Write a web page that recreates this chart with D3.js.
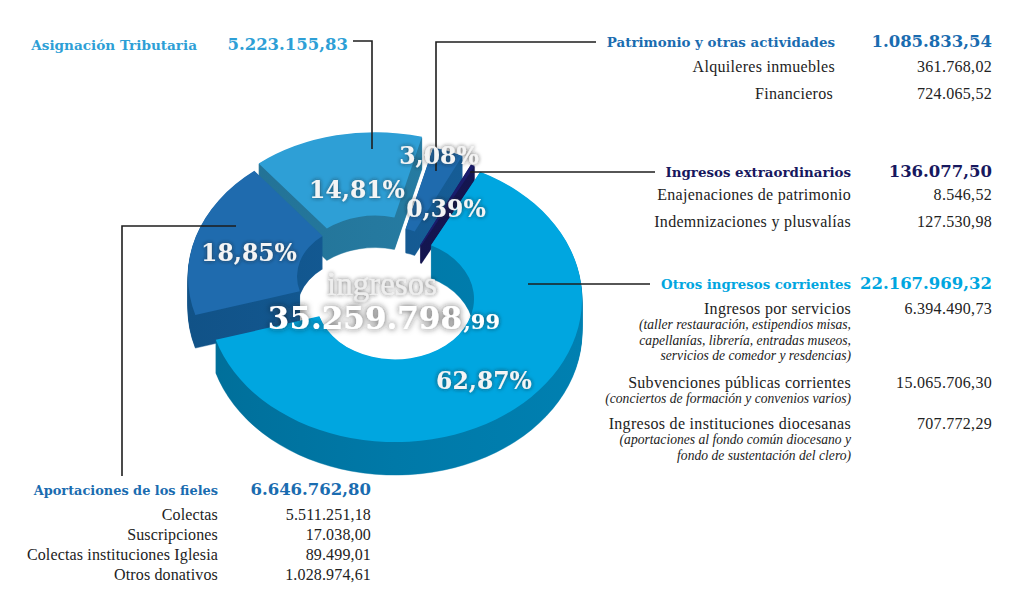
<!DOCTYPE html>
<html><head><meta charset="utf-8">
<script src="https://cdn.jsdelivr.net/npm/d3@7/dist/d3.min.js"></script>
<style>html,body{margin:0;background:#fff}svg{display:block}</style></head>
<body><svg id="c" width="1024" height="610"></svg>
<script>
const sliceNames=["Otros ingresos corrientes","Aportaciones de los fieles","Asignación Tributaria","Patrimonio y otras actividades","Ingresos extraordinarios"];
const sliceValues=[22167969.32,6646762.80,5223155.83,1085833.54,136077.50];
const sliceLabels=["62,87%","18,85%","14,81%","3,08%","0,39%"];
const topColors=["#00a6e0","#1f6bae","#2e9fd6","#1f6bae","#1a1c6c"];
const wallColors=["#0079a8","#135a94","#25799f","#155a92","#14154f"];
const totalMain="35.259.798";
const totalCents=",99";
const patrimonio=["Patrimonio y otras actividades","1.085.833,54"];
const patrimonioRows=[["Alquileres inmuebles","361.768,02"],["Financieros","724.065,52"]];
const extra=["Ingresos extraordinarios","136.077,50"];
const extraRows=[["Enajenaciones de patrimonio","8.546,52"],["Indemnizaciones y plusvalías","127.530,98"]];
const otros=["Otros ingresos corrientes","22.167.969,32"];
const otrosRows=[["Ingresos por servicios","6.394.490,73"],["Subvenciones públicas corrientes","15.065.706,30"],["Ingresos de instituciones diocesanas","707.772,29"]];
const otrosNotes=[["(taller restauración, estipendios misas,","capellanías, librería, entradas museos,","servicios de comedor y resdencias)"],["(conciertos de formación y convenios varios)"],["(aportaciones al fondo común diocesano y","fondo de sustentación del clero)"]];
const aportaciones=["Aportaciones de los fieles","6.646.762,80"];
const aportacionesRows=[["Colectas","5.511.251,18"],["Suscripciones","17.038,00"],["Colectas instituciones Iglesia","89.499,01"],["Otros donativos","1.028.974,61"]];
const asignacion=["Asignación Tributaria","5.223.155,83"];

const svg=d3.select("#c");
const SERIF="'DejaVu Serif',serif", BODY="'Liberation Serif',serif";
const defs=svg.append("defs");
const f1=defs.append("filter").attr("id","sh").attr("x","-20%").attr("y","-30%").attr("width","140%").attr("height","160%");
f1.append("feDropShadow").attr("dx",0).attr("dy",0).attr("stdDeviation",2).attr("flood-color","#222").attr("flood-opacity",.75);
const f2=defs.append("filter").attr("id","sh2").attr("x","-20%").attr("y","-30%").attr("width","140%").attr("height","160%");
f2.append("feDropShadow").attr("dx",0).attr("dy",0).attr("stdDeviation",3).attr("flood-color","#222").attr("flood-opacity",.8);

const SQ=.765;
const centers=[[395,299],[365,276.5],[375,274.5],[393,266],[395,285]];
const outerR=[187,177,186,160,175];
const innerR=[79,68,77,50,58];
const depths=[33,33,32,24,18];
const drawOrder=[2,3,4,1,0];
const labelPos=[[484,389],[249,261],[357,198],[439,164],[446,217]];

const pie=d3.pie().sort(null).startAngle(27.1*Math.PI/180).endAngle(387.1*Math.PI/180);
const arcs=pie(sliceValues);

sliceValues.forEach((_,i)=>{
  const g=defs.append("linearGradient").attr("id","w"+i).attr("gradientUnits","userSpaceOnUse")
    .attr("x1",-outerR[i]).attr("x2",outerR[i]).attr("y1",0).attr("y2",0);
  g.append("stop").attr("offset",0).attr("stop-color",d3.color(wallColors[i]).darker(.25));
  g.append("stop").attr("offset",.5).attr("stop-color",wallColors[i]);
  g.append("stop").attr("offset",1).attr("stop-color",d3.color(wallColors[i]).brighter(.15));
});

const pieG=svg.append("g");
drawOrder.forEach(i=>{
  const arc=d3.arc().innerRadius(innerR[i]).outerRadius(outerR[i]);
  const g=pieG.append("g").attr("transform",`translate(${centers[i][0]},${centers[i][1]})`);
  d3.range(depths[i],0,-1).forEach(k=>{
    g.append("path").attr("d",arc(arcs[i])).attr("transform",`translate(0,${k}) scale(1,${SQ})`)
     .attr("fill",`url(#w${i})`).attr("stroke",`url(#w${i})`).attr("stroke-width",.5);
  });
  g.append("path").attr("d",arc(arcs[i])).attr("transform",`scale(1,${SQ})`).attr("fill",topColors[i]);
});

function leader(pts){svg.append("path").attr("d",d3.line()(pts)).attr("fill","none").attr("stroke","#1e1e1e").attr("stroke-width",1.6);}
leader([[353,41],[372,41],[372,149]]);
leader([[596,42],[436,42],[436,171]]);
leader([[655,172],[470,172]]);
leader([[650,284],[528,284]]);
leader([[122,476],[122,226],[236,226]]);

function T(x,y,s,o={}){
  return svg.append("text").attr("x",x).attr("y",y).text(s)
    .attr("text-anchor",o.a||"end").attr("font-family",o.f||BODY)
    .attr("font-size",o.s||16).attr("font-weight",o.w||"normal")
    .attr("letter-spacing",o.ls===undefined?.3:o.ls)
    .attr("font-style",o.i?"italic":"normal").attr("fill",o.c||"#222");
}
function head(xl,xv,y,h,c,st=13.4,sv=16.5){
  T(xl,y,h[0],{f:SERIF,w:"bold",s:st,c,ls:0});
  T(xv,y,h[1],{f:SERIF,w:"bold",s:sv,c,ls:0});
}
head(197,348,50,asignacion,topColors[2],13.6);
head(835,992,47,patrimonio,"#1a6cb0");
T(835,72,patrimonioRows[0][0]);T(992,72,patrimonioRows[0][1]);
T(833,99,patrimonioRows[1][0]);T(992,99,patrimonioRows[1][1]);
head(851,992,177,extra,"#17185e");
[200,227].forEach((y,i)=>{T(851,y,extraRows[i][0]);T(992,y,extraRows[i][1]);});
head(851,992,289,otros,"#00a6e0",13.3);
[314,388,429].forEach((y,i)=>{
  T(851,y,otrosRows[i][0]);T(992,y,otrosRows[i][1]);
  otrosNotes[i].forEach((n,j)=>T(851,y+(j+1)*15.3,n,{i:true,s:13.6,ls:0}));
});
head(218,371,495,aportaciones,"#1a6cb0",12.9);
[520,540,560,580].forEach((y,i)=>{T(218,y,aportacionesRows[i][0],{ls:.15});T(371,y,aportacionesRows[i][1],{ls:.15});});

sliceLabels.forEach((l,i)=>{
  T(labelPos[i][0],labelPos[i][1],l,{a:"middle",f:SERIF,w:"bold",s:23.5,c:"#f4f4f4",ls:0}).attr("filter","url(#sh)");
});
T(382,295,"ingresos",{a:"middle",s:33,c:"#eee",ls:0}).attr("filter","url(#sh)");
T(462,329,totalMain,{f:SERIF,w:"bold",s:31,c:"#fff",ls:0}).attr("filter","url(#sh2)");
T(500,329,totalCents,{f:SERIF,w:"bold",s:21,c:"#fff",ls:0}).attr("filter","url(#sh)");
</script></body></html>
